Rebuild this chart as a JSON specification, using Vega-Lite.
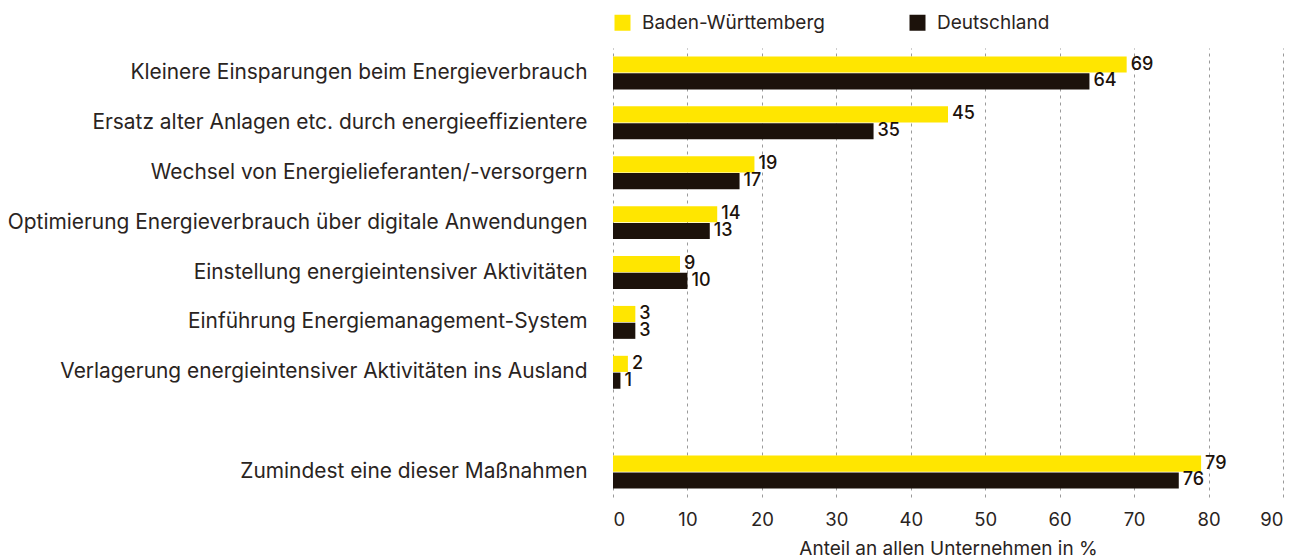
{
  "$schema": "https://vega.github.io/schema/vega-lite/v6.json",
  "width": 670,
  "height": 449,
  "autosize": {"type": "none"},
  "padding": {"left": 613, "top": 48, "right": 17, "bottom": 63},
  "background": "white",
  "config": {
    "font": "Inter",
    "view": {"stroke": null},
    "axis": {"labelColor": "#2a241e", "titleColor": "#2a241e", "labelFont": "Inter", "titleFont": "Inter"}
  },
  "data": {
    "values": [
      {"kat": "Kleinere Einsparungen beim Energieverbrauch", "region": "Baden-Württemberg", "wert": 69},
      {"kat": "Kleinere Einsparungen beim Energieverbrauch", "region": "Deutschland", "wert": 64},
      {"kat": "Ersatz alter Anlagen etc. durch energieeffizientere", "region": "Baden-Württemberg", "wert": 45},
      {"kat": "Ersatz alter Anlagen etc. durch energieeffizientere", "region": "Deutschland", "wert": 35},
      {"kat": "Wechsel von Energielieferanten/-versorgern", "region": "Baden-Württemberg", "wert": 19},
      {"kat": "Wechsel von Energielieferanten/-versorgern", "region": "Deutschland", "wert": 17},
      {"kat": "Optimierung Energieverbrauch über digitale Anwendungen", "region": "Baden-Württemberg", "wert": 14},
      {"kat": "Optimierung Energieverbrauch über digitale Anwendungen", "region": "Deutschland", "wert": 13},
      {"kat": "Einstellung energieintensiver Aktivitäten", "region": "Baden-Württemberg", "wert": 9},
      {"kat": "Einstellung energieintensiver Aktivitäten", "region": "Deutschland", "wert": 10},
      {"kat": "Einführung Energiemanagement-System", "region": "Baden-Württemberg", "wert": 3},
      {"kat": "Einführung Energiemanagement-System", "region": "Deutschland", "wert": 3},
      {"kat": "Verlagerung energieintensiver Aktivitäten ins Ausland", "region": "Baden-Württemberg", "wert": 2},
      {"kat": "Verlagerung energieintensiver Aktivitäten ins Ausland", "region": "Deutschland", "wert": 1},
      {"kat": "Zumindest eine dieser Maßnahmen", "region": "Baden-Württemberg", "wert": 79},
      {"kat": "Zumindest eine dieser Maßnahmen", "region": "Deutschland", "wert": 76}
    ]
  },
  "encoding": {
    "y": {
      "field": "kat",
      "type": "nominal",
      "scale": {
        "domain": [
          "Kleinere Einsparungen beim Energieverbrauch",
          "Ersatz alter Anlagen etc. durch energieeffizientere",
          "Wechsel von Energielieferanten/-versorgern",
          "Optimierung Energieverbrauch über digitale Anwendungen",
          "Einstellung energieintensiver Aktivitäten",
          "Einführung Energiemanagement-System",
          "Verlagerung energieintensiver Aktivitäten ins Ausland",
          " ",
          "Zumindest eine dieser Maßnahmen"
        ],
        "paddingInner": 0.34,
        "paddingOuter": 0.17
      },
      "axis": {
        "title": null,
        "domain": false,
        "ticks": false,
        "grid": false,
        "labelPadding": 26,
        "labelFontSize": 20.9,
        "labelLimit": 700
      }
    },
    "yOffset": {
      "field": "region",
      "type": "nominal",
      "scale": {"domain": ["Baden-Württemberg", "Deutschland"], "paddingInner": 0.04}
    },
    "x": {
      "field": "wert",
      "type": "quantitative",
      "scale": {"domain": [0, 90], "nice": false},
      "axis": {
        "title": "Anteil an allen Unternehmen in %",
        "titleFontSize": 19,
        "titleFontWeight": "normal",
        "titlePadding": 11,
        "values": [0, 10, 20, 30, 40, 50, 60, 70, 80, 90],
        "domain": false,
        "ticks": false,
        "grid": true,
        "gridColor": "#9a9a9a",
        "gridDash": [3, 4],
        "gridWidth": 1,
        "labelFontSize": 18.5,
        "labelPadding": 13,
        "offset": 0
      }
    }
  },
  "layer": [
    {
      "mark": {"type": "bar"},
      "encoding": {
        "color": {
          "field": "region",
          "type": "nominal",
          "scale": {"domain": ["Baden-Württemberg", "Deutschland"], "range": ["#ffe600", "#1c120b"]},
          "legend": {
            "title": null,
            "orient": "none",
            "legendX": 0,
            "legendY": -35,
            "direction": "horizontal",
            "symbolType": "square",
            "symbolSize": 256,
            "symbolStrokeWidth": 0,
            "labelFontSize": 19,
            "labelColor": "#2a241e",
            "labelOffset": 10,
            "labelLimit": 400,
            "columnPadding": 83,
            "labelFont": "Inter"
          }
        }
      }
    },
    {
      "mark": {"type": "text", "align": "left", "baseline": "middle", "dx": 4, "fontSize": 18, "font": "Inter", "fontWeight": 500, "color": "#1c120b"},
      "encoding": {"text": {"field": "wert", "type": "quantitative"}}
    }
  ]
}
